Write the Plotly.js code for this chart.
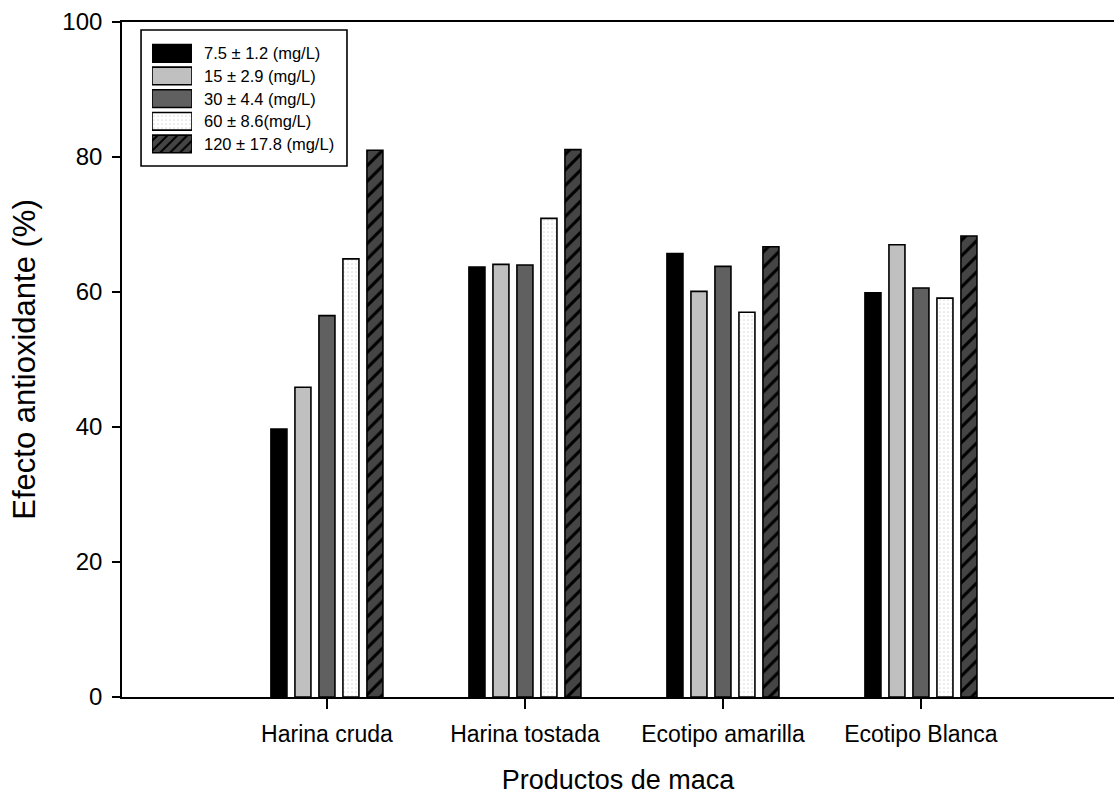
<!DOCTYPE html>
<html>
<head>
<meta charset="utf-8">
<script src="https://cdn.plot.ly/plotly-3.0.1.min.js"></script>
<style>html,body{margin:0;padding:0;background:#fff;}#chart{width:1114px;height:796px;}</style>
</head>
<body>
<div id="chart"></div>
<script>
// ---- data ----
var categories = ["Harina cruda", "Harina tostada", "Ecotipo amarilla", "Ecotipo Blanca"];
var seriesNames = ["7.5 \u00b1 1.2 (mg/L)", "15 \u00b1 2.9 (mg/L)", "30 \u00b1 4.4 (mg/L)", "60 \u00b1 8.6(mg/L)", "120 \u00b1 17.8 (mg/L)"];
var s7_5  = [39.7, 63.7, 65.7, 59.9];
var s15   = [45.9, 64.1, 60.1, 67.0];
var s30   = [56.5, 64.0, 63.8, 60.6];
var s60   = [64.9, 70.9, 57.0, 59.1];
var s120  = [81.0, 81.1, 66.7, 68.3];
var seriesValues = [s7_5, s15, s30, s60, s120];
var yTicks = [0, 20, 40, 60, 80, 100];

// ---- styles ----
var fills    = ["#000000", "#c0c0c0", "#606060", "#ffffff", "#454545"];
var patShape = ["", "", "", ".", "/"];
var patFg    = ["#000000", "#000000", "#000000", "#dcdcdc", "#000000"];
var FONT = "Liberation Sans, Arial, sans-serif";

var traces = [];
for (var i = 0; i < seriesValues.length; i++) {
  traces.push({
    type: "bar",
    name: seriesNames[i],
    x: categories.map(function (c, k) { return k; }),
    y: seriesValues[i],
    marker: {
      color: fills[i],
      line: {color: "#000", width: 1.6},
      pattern: {shape: patShape[i], fgcolor: patFg[i], bgcolor: fills[i], size: patShape[i] === "/" ? 11 : 4, solidity: patShape[i] === "/" ? 0.28 : 0.15}
    },
    showlegend: false,
    hoverinfo: "skip"
  });
}

// legend swatches: one bar per series on a hidden helper axis
for (var j = 0; j < seriesNames.length; j++) {
  traces.push({
    type: "bar",
    orientation: "h",
    xaxis: "x2",
    yaxis: "y2",
    y: [j],
    x: [1],
    width: 0.78,
    offset: -0.39,
    marker: {
      color: fills[j],
      line: {color: "#000", width: 1.6},
      pattern: {shape: patShape[j], fgcolor: patFg[j], bgcolor: fills[j], size: patShape[j] === "/" ? 7 : 4, solidity: patShape[j] === "/" ? 0.28 : 0.15}
    },
    showlegend: false,
    hoverinfo: "skip"
  });
}

// paper coordinates of the plot area: x 122..1114 px, y 22..697 px
var legX0 = 0.0192, legX1 = 0.2268, legY0 = 0.7867, legY1 = 0.9881;
var legendRowsY = [0.9536, 0.9200, 0.8864, 0.8529, 0.8193];

var annotations = seriesNames.map(function (n, k) {
  return {
    xref: "paper", yref: "paper", x: 0.0803, y: legendRowsY[k],
    xanchor: "left", yanchor: "middle", showarrow: false,
    text: n, font: {family: FONT, size: 16.5, color: "#000"}
  };
});

var layout = {
  width: 1114, height: 796,
  margin: {l: 122, r: 0, t: 22, b: 99, pad: 0},
  paper_bgcolor: "#fff", plot_bgcolor: "#fff",
  font: {family: FONT, color: "#000"},
  barmode: "group",
  bargap: 0.394,
  bargroupgap: 0.333,
  showlegend: false,
  xaxis: {
    range: [-1.035, 3.975],
    tickmode: "array",
    tickvals: [0, 1, 2, 3],
    ticktext: categories,
    ticks: "outside", ticklen: 10, tickwidth: 1.5, tickcolor: "#000",
    ticklabelstandoff: 6,
    showline: true, linecolor: "#000", linewidth: 1.8, mirror: true,
    showgrid: false, zeroline: false,
    tickfont: {family: FONT, size: 23, color: "#000"},
    title: {text: "Productos de maca", font: {family: FONT, size: 27, color: "#000"}, standoff: 24},
    fixedrange: true
  },
  yaxis: {
    range: [0, 100],
    tickmode: "array",
    tickvals: yTicks,
    ticks: "outside", ticklen: 8, tickwidth: 1.5, tickcolor: "#000",
    ticklabelstandoff: 5,
    showline: true, linecolor: "#000", linewidth: 1.8,
    showgrid: false, zeroline: false,
    tickfont: {family: FONT, size: 24, color: "#000"},
    title: {text: "Efecto antioxidante (%)", font: {family: FONT, size: 31, color: "#000"}, standoff: 17},
    fixedrange: true
  },
  xaxis2: {
    domain: [0.03024, 0.07056], anchor: "y2", range: [0, 1],
    visible: false, fixedrange: true
  },
  yaxis2: {
    domain: [0.8025, 0.9704], anchor: "x2", range: [4.5, -0.5],
    visible: false, fixedrange: true
  },
  shapes: [{
    type: "rect", xref: "paper", yref: "paper",
    x0: legX0, x1: legX1, y0: legY0, y1: legY1,
    line: {color: "#000", width: 1.6}, fillcolor: "rgba(0,0,0,0)"
  }],
  annotations: annotations
};

Plotly.newPlot("chart", traces, layout, {displayModeBar: false, staticPlot: true});
</script>
</body>
</html>
